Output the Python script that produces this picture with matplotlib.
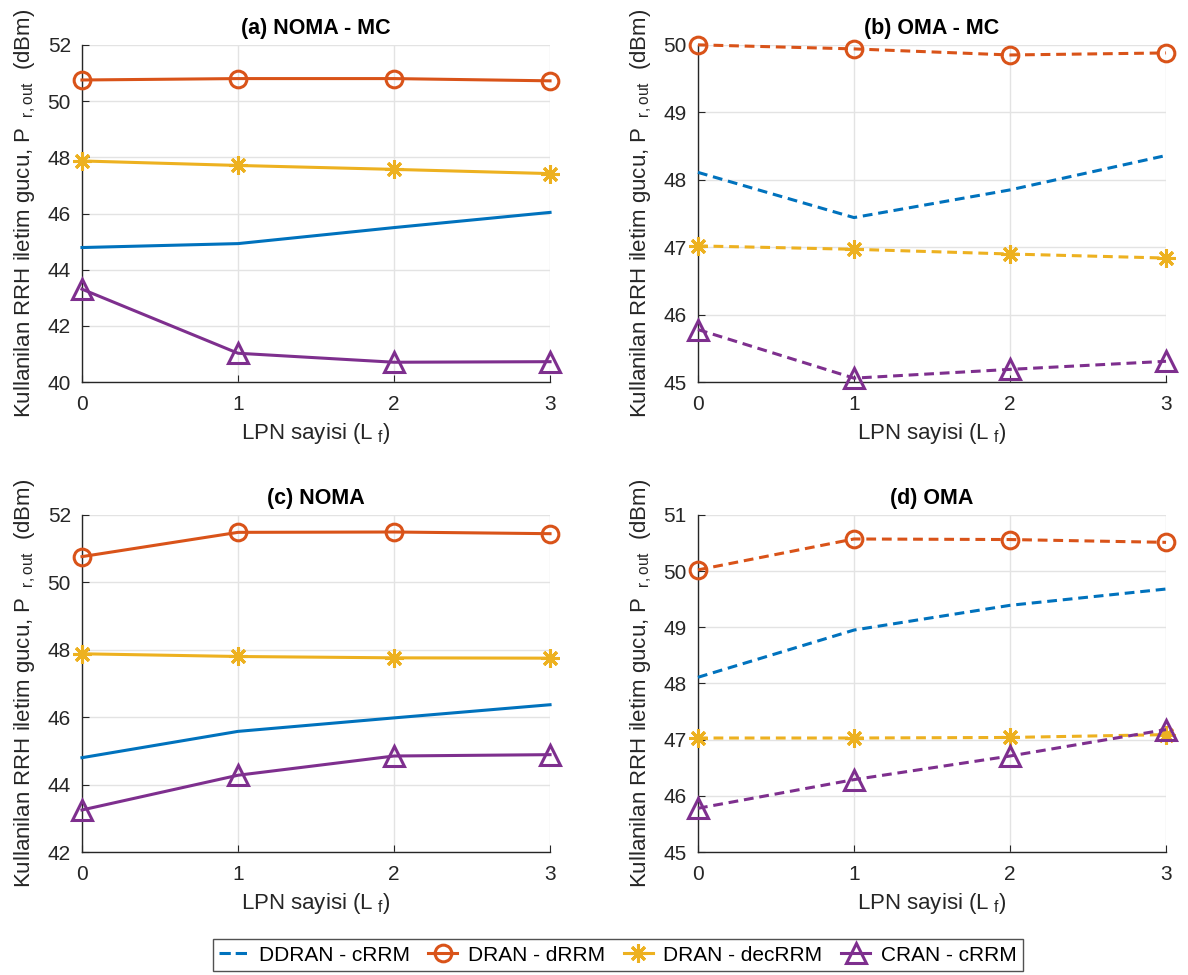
import matplotlib
matplotlib.use("Agg")
import matplotlib.pyplot as plt
from matplotlib.lines import Line2D

plt.rcParams['font.family'] = ['Liberation Sans', 'DejaVu Sans']
plt.rcParams['mathtext.fontset'] = 'custom'
plt.rcParams['mathtext.rm'] = 'Liberation Sans'

lpn = [0, 1, 2, 3]

# (a) NOMA - MC
a_ddran = [44.79, 44.93, 45.50, 46.04]
a_dran_d = [50.75, 50.80, 50.80, 50.72]
a_dran_dec = [47.87, 47.71, 47.57, 47.42]
a_cran = [43.31, 41.03, 40.71, 40.73]

# (b) OMA - MC
b_ddran = [48.11, 47.44, 47.85, 48.36]
b_dran_d = [50.00, 49.94, 49.85, 49.88]
b_dran_dec = [47.02, 46.97, 46.90, 46.84]
b_cran = [45.78, 45.06, 45.19, 45.31]

# (c) NOMA
c_ddran = [44.80, 45.58, 45.98, 46.37]
c_dran_d = [50.76, 51.48, 51.49, 51.44]
c_dran_dec = [47.88, 47.80, 47.76, 47.75]
c_cran = [43.25, 44.28, 44.85, 44.89]

# (d) OMA
d_ddran = [48.11, 48.95, 49.39, 49.68]
d_dran_d = [50.02, 50.57, 50.56, 50.51]
d_dran_dec = [47.03, 47.03, 47.04, 47.09]
d_cran = [45.78, 46.29, 46.71, 47.18]

names = ['DDRAN - cRRM', 'DRAN - dRRM', 'DRAN - decRRM', 'CRAN - cRRM']
colors = ['#0072BD', '#D95319', '#EDB120', '#7E2F8E']
asterisk = (8, 2, 0)
markers = [None, 'o', asterisk, '^']
msizes = [0, 12, 13, 14]

panels = [
    ('(a) NOMA - MC', [a_ddran, a_dran_d, a_dran_dec, a_cran], '-', (40, 52), range(40, 53, 2)),
    ('(b) OMA - MC', [b_ddran, b_dran_d, b_dran_dec, b_cran], '--', (45, 50), range(45, 51)),
    ('(c) NOMA', [c_ddran, c_dran_d, c_dran_dec, c_cran], '-', (42, 52), range(42, 53, 2)),
    ('(d) OMA', [d_ddran, d_dran_d, d_dran_dec, d_cran], '--', (45, 51), range(45, 52)),
]

fig = plt.figure(figsize=(11.88, 9.75), dpi=100)
positions = [
    [0.069, 0.608, 0.394, 0.346],
    [0.5875, 0.608, 0.394, 0.346],
    [0.069, 0.126, 0.394, 0.346],
    [0.5875, 0.126, 0.394, 0.346],
]

dark = '#262626'
for pos, (title, series, ls, ylim, yticks) in zip(positions, panels):
    ax = fig.add_axes(pos)
    for vals, col, mk, ms in zip(series, colors, markers, msizes):
        ax.plot(lpn, vals, color=col, lw=2.2, ls=ls, marker=mk, ms=ms,
                mfc='none', mec=col, mew=2.2, clip_on=False, zorder=3,
                dashes=(3.2, 1.9) if ls == '--' else (None, None))
    ax.set_xlim(0, 3)
    ax.set_ylim(*ylim)
    ax.set_xticks(lpn)
    ax.set_yticks(list(yticks))
    ax.grid(True, color='#e3e3e3', lw=1)
    ax.set_axisbelow(True)
    for s in ['top', 'right']:
        ax.spines[s].set_visible(False)
    for s in ['left', 'bottom']:
        ax.spines[s].set_color(dark)
        ax.spines[s].set_linewidth(1)
    ax.tick_params(direction='in', labelsize=15, colors=dark, length=5)
    ax.tick_params(axis='x', pad=9)
    ax.tick_params(axis='y', pad=8)
    ax.set_title(title, fontsize=15.5, fontweight='bold', pad=8)
    ax.set_xlabel(r'LPN sayisi (L$_{\rm\ f}$)', fontsize=16, labelpad=5, color=dark)
    ax.set_ylabel(r'Kullanilan RRH iletim gucu, P$_{\rm\ \ r,out}$  (dBm)', fontsize=16,
                  labelpad=7, color=dark)

handles = []
for name, col, mk, ms in zip(names, colors, markers, msizes):
    ls = '--' if mk is None else '-'
    handles.append(Line2D([], [], color=col, lw=2.2, ls=ls, marker=mk, ms=ms,
                          mfc='none', mec=col, mew=2.2, label=name))
fig.legend(handles=handles, loc='center', bbox_to_anchor=(0.52, 0.0205), ncol=4,
           fontsize=15, frameon=True, fancybox=False, edgecolor='#262626',
           handlelength=1.4, columnspacing=0.9, handletextpad=0.5,
           borderpad=0.3)

fig.savefig('out.png', dpi=100)
